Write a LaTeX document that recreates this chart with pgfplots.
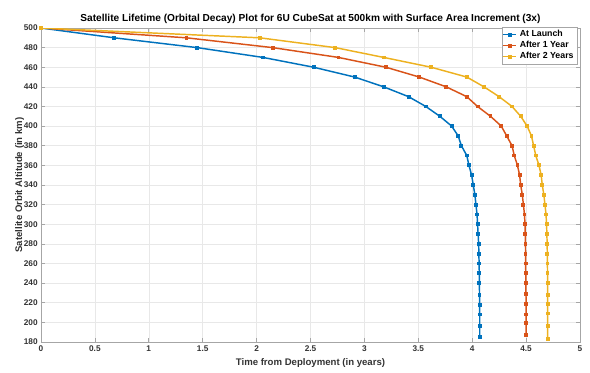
\documentclass[border=0pt]{standalone}
\usepackage{fontspec}
\setmainfont{Liberation Sans}
\usepackage{pgfplots}
\pgfplotsset{compat=1.18}
\definecolor{mblue}{rgb}{0,0.447,0.741}
\definecolor{morange}{rgb}{0.85,0.325,0.098}
\definecolor{myellow}{rgb}{0.929,0.694,0.125}
\begin{document}
\begin{tikzpicture}
\begin{axis}[
  at={(0,0)}, anchor=south west,
  scale only axis, width=404.25pt, height=235.5pt,
  xmin=0, xmax=5, ymin=180, ymax=500,
  xtick={0,0.5,...,5}, ytick={180,200,...,500},
  xticklabels={0,0.5,1,1.5,2,2.5,3,3.5,4,4.5,5},
  grid=major, major grid style={gray!18, line width=0.4pt},
  axis line style={gray!70, line width=0.5pt},
  tick style={gray!70, line width=0.5pt},
  tick align=inside, major tick length=3pt,
  /pgf/number format/assume math mode=true,
  ticklabel style={font=\fontsize{6.2}{7}\selectfont\bfseries, text=black!80},
  xticklabel style={yshift=1pt},
  yticklabel style={xshift=1pt},
  xlabel={Time from Deployment (in years)},
  ylabel={Satellite Orbit Altitude (in km)},
  label style={font=\fontsize{7.2}{8}\selectfont\bfseries, text=black!80},
  xlabel style={yshift=1.5pt},
  ylabel style={yshift=-7pt},
  title={Satellite Lifetime (Orbital Decay) Plot for 6U CubeSat at 500km with Surface Area Increment (3x)},
  title style={font=\fontsize{7.6}{8}\selectfont\bfseries, yshift=-6pt},
  legend style={at={(1,1)}, anchor=north east, xshift=-2pt, yshift=1pt,
    font=\fontsize{6.6}{7.5}\selectfont\bfseries, draw=gray!70, fill=white,
    inner sep=0.6pt, row sep=-2pt, /tikz/every even column/.append style={column sep=0pt}},
  legend image code/.code={\draw[mark repeat=2,mark phase=2] plot coordinates {(0cm,0cm) (0.17cm,0cm) (0.34cm,0cm)};},
  legend cell align=left,
  every axis plot/.append style={line width=1.1pt, mark=square*, mark size=0.9pt},
]
\addplot[color=mblue] coordinates {
(0,500) (0.68,490) (1.45,480) (2.06,470) (2.53,460) (2.91,450) (3.18,440) (3.41,430)
(3.57,420) (3.70,410) (3.81,400) (3.87,390) (3.90,380) (3.95,370) (3.97,360) (3.995,350)
(4.01,340) (4.025,330) (4.035,320) (4.045,310) (4.05,300) (4.055,290) (4.06,280)
(4.062,270) (4.064,260) (4.066,250) (4.067,240) (4.068,228) (4.069,218) (4.07,208)
(4.07,196) (4.07,185)};
\addlegendentry{At Launch}
\addplot[color=morange] coordinates {
(0,500) (1.35,490) (2.15,480) (2.76,470) (3.20,460) (3.51,450) (3.76,440) (3.95,430)
(4.05,420) (4.17,410) (4.27,400) (4.32,390) (4.37,380) (4.39,370) (4.42,360) (4.44,350)
(4.45,340) (4.465,330) (4.475,320) (4.485,310) (4.49,300) (4.492,290) (4.494,280)
(4.495,270) (4.496,260) (4.497,250) (4.498,240) (4.499,229) (4.5,219) (4.5,208)
(4.5,199) (4.5,187)};
\addlegendentry{After 1 Year}
\addplot[color=myellow] coordinates {
(0,500) (2.03,490) (2.73,480) (3.18,470) (3.62,460) (3.95,450) (4.11,440) (4.25,430)
(4.37,420) (4.45,410) (4.51,400) (4.55,390) (4.57,380) (4.59,370) (4.62,360) (4.64,350)
(4.65,340) (4.665,330) (4.675,320) (4.685,310) (4.69,300) (4.693,290) (4.695,280)
(4.697,270) (4.698,260) (4.699,250) (4.7,240) (4.7,228) (4.7,219) (4.7,209)
(4.7,196) (4.7,183)};
\addlegendentry{After 2 Years}
\end{axis}
\pgfresetboundingbox
\path[use as bounding box] (-30.75pt,-22.5pt) rectangle (411.75pt,256.5pt);
\end{tikzpicture}
\end{document}
